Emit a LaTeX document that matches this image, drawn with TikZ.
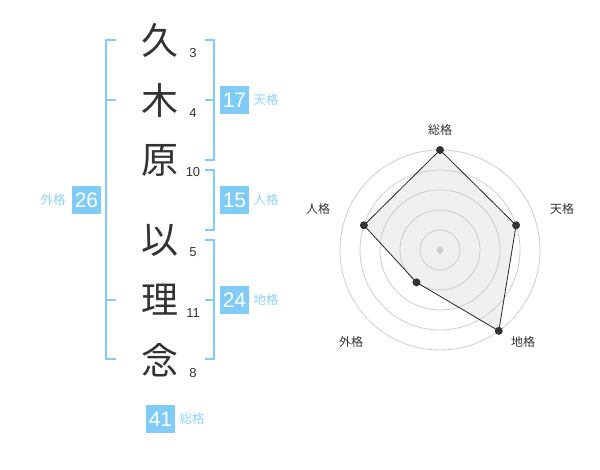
\documentclass[tikz,border=0pt]{standalone}
\usepackage{fontspec}
\usetikzlibrary{calc}
\setmainfont{Liberation Sans}
\newfontfamily\jpfont{Noto Sans CJK JP}
\definecolor{kakublue}{HTML}{80CCF8}
\definecolor{kakutext}{HTML}{8ED2F7}
\definecolor{inkgray}{HTML}{333333}
\definecolor{ringgray}{HTML}{CCCCCC}
\tikzset{
	namechar/.style={inner sep=0pt,text=inkgray,font=\jpfont\fontsize{37}{37}\selectfont},
	stroke/.style={inner sep=0pt,text=inkgray,font=\fontsize{13}{13}\selectfont},
	kakubox/.style={fill=kakublue,text=white,minimum width=29pt,minimum height=28pt,inner sep=0pt,font=\fontsize{21}{21}\selectfont},
	kakulabel/.style={inner sep=0pt,text=kakutext,font=\jpfont\fontsize{12.5}{12.5}\selectfont},
	bracket/.style={draw=kakublue,line width=2pt},
	axislabel/.style={inner sep=0pt,text=inkgray,font=\jpfont\fontsize{12}{12}\selectfont},
	dot/.style={circle,fill=inkgray,inner sep=0pt,minimum size=8pt}
}
\begin{document}
\begin{tikzpicture}[x=1pt,y=-1pt]
		\useasboundingbox (0,0) rectangle (600,470);
		% name
		\node[namechar] (c1) at (160,40) {久};
		\node[namechar] (c2) at (160,100) {木};
		\node[namechar] (c3) at (160,160) {原};
		\node[namechar] (c4) at (160,240) {以};
		\node[namechar] (c5) at (160,300) {理};
		\node[namechar] (c6) at (160,360) {念};
		\node[stroke] (s1) at (193,53) {3};
		\node[stroke] (s2) at (193,113) {4};
		\node[stroke] (s3) at (193,172) {10};
		\node[stroke] (s4) at (193,252) {5};
		\node[stroke] (s5) at (193,313) {11};
		\node[stroke] (s6) at (193,373) {8};
		% brackets
		\draw[bracket] (116,40) -- (106,40) -- (106,359) -- (116,359);
		\draw[bracket] (106,100) -- (116,100);
		\draw[bracket] (106,300) -- (116,300);
		\draw[bracket] (205,40) -- (214,40) -- (214,160) -- (205,160);
		\draw[bracket] (205,100) -- (214,100);
		\draw[bracket] (205,170) -- (214,170) -- (214,230) -- (205,230);
		\draw[bracket] (205,240) -- (214,240) -- (214,359) -- (205,359);
		\draw[bracket] (205,300) -- (214,300);
		% scores
		\node[kakubox] (ten) at (234.5,100) {17};
		\node[kakulabel] (tenl) at (266,100) {天格};
		\node[kakubox] (jin) at (234.5,200) {15};
		\node[kakulabel] (jinl) at (266,200) {人格};
		\node[kakubox] (chi) at (234.5,300) {24};
		\node[kakulabel] (chil) at (266,300) {地格};
		\node[kakubox] (gai) at (86.5,200) {26};
		\node[kakulabel] (gail) at (53,200) {外格};
		\node[kakubox] (sou) at (160.5,419) {41};
		\node[kakulabel] (soul) at (192,419) {総格};
		% radar
		\coordinate (o) at (440,250);
		\coordinate (psou) at ($(o)+(-90:100)$);
		\coordinate (pten) at ($(o)+(-18:80)$);
		\coordinate (pchi) at ($(o)+(54:100)$);
		\coordinate (pgai) at ($(o)+(126:40)$);
		\coordinate (pjin) at ($(o)+(198:80)$);
		\fill[gray!12] (psou) -- (pten) -- (pchi) -- (pgai) -- (pjin) -- cycle;
		\foreach \r in {20,40,60,80,100}
			\draw[ringgray,line width=0.8pt] (o) circle (\r);
		\fill[ringgray] (o) circle (3.5);
		\draw[black!85,line width=0.8pt]
			(psou) -- (pten) -- (pchi) -- (pgai) -- (pjin) -- cycle;
		\foreach \p in {psou,pten,pchi,pgai,pjin}
			\node[dot] at (\p) {};
		\node[axislabel] (asou) at (440,130) {総格};
		\node[axislabel] (aten) at (562,209) {天格};
		\node[axislabel] (achi) at (523,342) {地格};
		\node[axislabel] (agai) at (351,342) {外格};
		\node[axislabel] (ajin) at (318,209) {人格};
	\end{tikzpicture}
\end{document}
